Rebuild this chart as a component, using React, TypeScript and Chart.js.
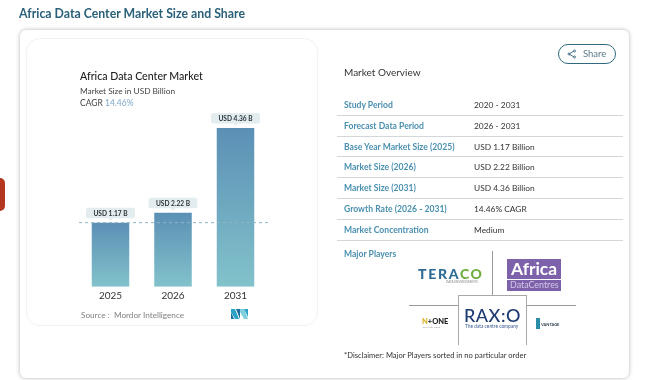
import React, { useEffect, useRef } from "react";
import { Chart, registerables } from "chart.js";

Chart.register(...registerables);

const years = ["2025", "2026", "2031"];
// Labelled values, shown in the callouts
const marketSizeLabels = ["USD 1.17 B", "USD 2.22 B", "USD 4.36 B"];
// Bar heights: the source infographic does not draw them to scale
const drawnBarHeights = [1.76, 2.03, 4.36];
const overviewLabels = ["Study Period", "Forecast Data Period", "Base Year Market Size (2025)", "Market Size (2026)", "Market Size (2031)", "Growth Rate (2026 - 2031)", "Market Concentration"];
const overviewValues = ["2020 - 2031", "2026 - 2031", "USD 1.17 Billion", "USD 2.22 Billion", "USD 4.36 Billion", "14.46% CAGR", "Medium"];
const rowCenters = [105, 126, 147, 167, 188, 209, 230];
const ruleTops = [114.5, 135.5, 156, 177, 198, 219, 240];

const FONT = "Lato, 'Open Sans', sans-serif";

const calloutPlugin = {
  id: "callouts",
  afterDatasetsDraw(chart: any) {
    const { ctx, scales } = chart;
    const meta = chart.getDatasetMeta(0);
    const refY = scales.y.getPixelForValue(drawnBarHeights[0]);
    ctx.save();
    ctx.strokeStyle = "#8fb4c4";
    ctx.lineWidth = 1;
    ctx.setLineDash([3, 3]);
    ctx.beginPath();
    ctx.moveTo(79, refY);
    ctx.lineTo(268, refY);
    ctx.stroke();
    ctx.setLineDash([]);
    meta.data.forEach((bar: any, i: number) => {
      const w = 49, h = 10.5;
      const x = bar.x - w / 2;
      const y = bar.y - h - 4.5;
      ctx.fillStyle = "#e3ecef";
      ctx.beginPath();
      ctx.roundRect(x, y, w, h, 2.5);
      ctx.fill();
      ctx.beginPath();
      ctx.moveTo(bar.x - 2.5, y + h);
      ctx.lineTo(bar.x + 2.5, y + h);
      ctx.lineTo(bar.x, y + h + 2.5);
      ctx.closePath();
      ctx.fill();
      ctx.fillStyle = "#2a3338";
      ctx.font = `700 6.6px ${FONT}`;
      ctx.textAlign = "center";
      ctx.textBaseline = "middle";
      ctx.fillText(marketSizeLabels[i], bar.x, y + h / 2 + 0.5);
    });
    ctx.restore();
  },
};

function T(props: { x: number; y: number; size: number; color?: string; weight?: number; spacing?: number; children: React.ReactNode }) {
  const { x, y, size, color = "#333", weight = 400, spacing = 0, children } = props;
  return (
    <div style={{ position: "absolute", left: x, top: y - 10, height: 20, lineHeight: "20px", fontSize: size, color, fontWeight: weight, letterSpacing: spacing, whiteSpace: "nowrap", fontFamily: FONT }}>
      {children}
    </div>
  );
}

function Box(props: { x: number; y: number; w: number; h: number; style?: React.CSSProperties; children?: React.ReactNode }) {
  return <div style={{ position: "absolute", left: props.x, top: props.y, width: props.w, height: props.h, boxSizing: "border-box", ...props.style }}>{props.children}</div>;
}

export default function App() {
  const ref = useRef<HTMLCanvasElement>(null);
  useEffect(() => {
    document.body.style.margin = "0";
    const chart = new Chart(ref.current!, {
      type: "bar",
      data: {
        labels: years,
        datasets: [{
          data: drawnBarHeights,
          barPercentage: 0.6,
          categoryPercentage: 1,
          backgroundColor: (c: any) => {
            const { chart: ch, raw } = c;
            const s = ch.scales.y;
            if (!s || raw == null) return "#6ea5bd";
            const top = s.getPixelForValue(raw);
            const bottom = s.getPixelForValue(0);
            if (!Number.isFinite(top) || !Number.isFinite(bottom)) return "#6ea5bd";
            const g = ch.ctx.createLinearGradient(0, top, 0, bottom);
            g.addColorStop(0, "#5b90b5");
            g.addColorStop(1, "#82c2cb");
            return g;
          },
        }],
      },
      options: {
        animation: false,
        responsive: false,
        events: [],
        layout: { padding: { left: 79.25, right: 401.25, top: 128, bottom: 0 } },
        plugins: { legend: { display: false }, tooltip: { enabled: false } },
        scales: {
          x: {
            grid: { display: false, drawTicks: false },
            border: { display: false },
            ticks: { color: "#333", font: { family: FONT, size: 10 }, padding: 3, maxRotation: 0 },
            afterFit: (s: any) => { s.height = 93.3; },
          },
          y: { display: false, min: 0, max: 4.36 },
        },
      },
      plugins: [calloutPlugin],
    } as any);
    return () => chart.destroy();
  }, []);

  return (
    <div style={{ position: "relative", width: 668, height: 380, overflow: "hidden", background: "#fff", fontFamily: FONT }}>
      <Box x={0} y={178} w={5} h={33} style={{ background: "#b5361f", borderRadius: "0 6px 6px 0" }} />
      <Box x={20} y={30} w={609} h={348} style={{ background: "#fff", borderRadius: 6, boxShadow: "0 0 4px rgba(0,0,0,0.3)" }} />
      <Box x={26} y={38} w={292} h={288} style={{ background: "#fff", borderRadius: 14, border: "1px solid #f0f2f3" }} />
      <canvas ref={ref} width={668} height={380} style={{ position: "absolute", left: 0, top: 0, display: "block" }} />

      <T x={19} y={14} size={12.3} weight={700} color="#2a6079">Africa Data Center Market Size and Share</T>
      <T x={80} y={76} size={10.6} weight={500} color="#222">Africa Data Center Market</T>
      <T x={80} y={91} size={8.3} color="#444">Market Size in USD Billion</T>
      <T x={80} y={103} size={8.5} color="#444">CAGR <span style={{ color: "#7fa8cc" }}>14.46%</span></T>
      <T x={81} y={315} size={8.2} color="#808080">Source :&nbsp; Mordor Intelligence</T>
      <svg style={{ position: "absolute", left: 231, top: 309 }} width={17} height={10} viewBox="0 0 17 10">
        <polygon points="0,0 4,0 8,10 4,10 0,3" fill="#2aa3c6" />
        <polygon points="0,3 3,10 0,10" fill="#1c6f9c" />
        <polygon points="5,0 9,0 9,10" fill="#1c6f9c" />
        <polygon points="9,0 13,0 17,10 13,10 9,3" fill="#7fd0dd" />
        <polygon points="13,0 17,0 17,8" fill="#2aa3c6" />
      </svg>

      <T x={344} y={72} size={10} color="#333">Market Overview</T>
      <Box x={558} y={44} w={58} h={20} style={{ border: "1px solid #2f6a80", borderRadius: 10 }} />
      <svg style={{ position: "absolute", left: 567, top: 49 }} width={10} height={10} viewBox="0 0 10 10" stroke="#4a7186" fill="none" strokeWidth={1}>
        <path d="M2 5 L7 2 M2 5 L7 8" />
        <circle cx={2} cy={5} r={1} />
        <circle cx={7.5} cy={2} r={1} />
        <circle cx={7.5} cy={8} r={1} />
      </svg>
      <T x={583} y={54} size={9.5} color="#5a7a8a">Share</T>

      {overviewLabels.map((l, i) => (
        <React.Fragment key={l}>
          <T x={344} y={rowCenters[i]} size={8.6} weight={700} color="#4a90b0">{l}</T>
          <T x={474} y={rowCenters[i]} size={8.4} color="#333">{overviewValues[i]}</T>
          <Box x={337} y={ruleTops[i]} w={286} h={1} style={{ background: "#d4d7d9" }} />
        </React.Fragment>
      ))}

      <T x={344} y={254} size={8.6} weight={700} color="#4a90b0">Major Players</T>

      <Box x={491.5} y={251} w={1} h={44} style={{ background: "#9a9a9a" }} />
      <Box x={409} y={305} w={49} h={1} style={{ background: "#9a9a9a" }} />
      <Box x={527} y={305} w={49} h={1} style={{ background: "#9a9a9a" }} />
      <Box x={458} y={295} w={69} h={50} style={{ borderTop: "1px solid #a8a8a8", borderLeft: "1px solid #a8a8a8", borderRight: "1px solid #a8a8a8" }} />

      <T x={418} y={274} size={14} weight={900} spacing={1.7} color="#2d6c94">TERA<span style={{ color: "#6fae3f" }}>CO</span></T>
      <T x={446} y={282} size={3} color="#888">DATA ENVIRONMENTS</T>

      <Box x={507} y={259} w={54} h={32} style={{ background: "#7d62ab" }} />
      <Box x={507} y={279} w={54} h={1} style={{ background: "#fff" }} />
      <T x={511} y={269} size={17.4} weight={700} color="#fff">Africa</T>
      <T x={510} y={285} size={8.9} color="#d5c8e8">DataCentres</T>

      <T x={464} y={315} size={18} weight={500} spacing={0.5} color="#1d3a72">RAX:O</T>
      <T x={465} y={326} size={4.8} color="#3a5a90">The data centre company</T>

      <T x={422} y={322} size={7.5} weight={900} color="#222"><span style={{ color: "#d9b026" }}>N</span>+ONE</T>
      <T x={423} y={328} size={2.5} color="#999">DATACENTERS</T>

      <Box x={536} y={318} w={4} h={11} style={{ background: "#2a8ea8" }} />
      <T x={541} y={325} size={4} weight={700} color="#2c3f50">VANTAGE</T>

      <T x={344} y={355} size={7.6} color="#333">*Disclaimer: Major Players sorted in no particular order</T>
    </div>
  );
}
